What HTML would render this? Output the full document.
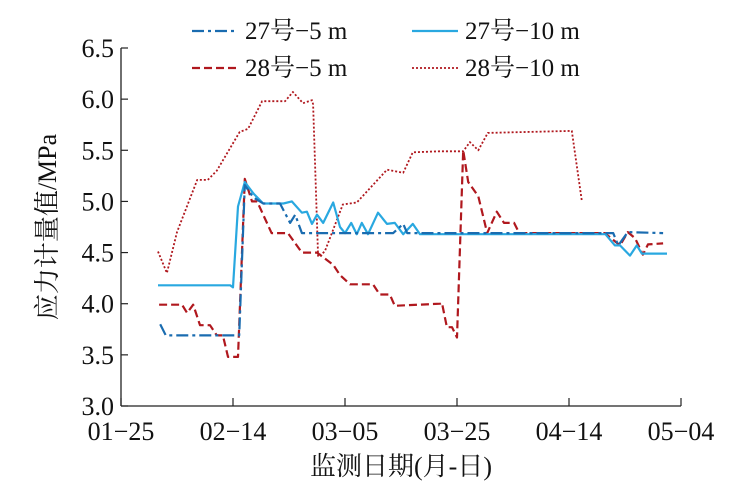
<!DOCTYPE html>
<html><head><meta charset="utf-8"><style>
body{margin:0;background:#fff}
svg text{font-family:"Liberation Serif","Times New Roman","Noto Serif CJK SC",serif;fill:#111}
</style></head><body>
<svg id="chart" width="743" height="497" xmlns="http://www.w3.org/2000/svg">
<g id="axes"></g><g id="series"></g>
<g font-size="25">
<g><line x1="192" y1="31" x2="238" y2="31" stroke="#1a6cb0" stroke-width="2.2" stroke-dasharray="12,4,3,4"/><text x="245" y="39">27号−5 m</text></g>
<g><line x1="412" y1="31" x2="458" y2="31" stroke="#29a8e0" stroke-width="2.2"/><text x="465" y="39">27号−10 m</text></g>
<g><line x1="192" y1="68" x2="238" y2="68" stroke="#b0181e" stroke-width="2.2" stroke-dasharray="8,4"/><text x="245" y="76">28号−5 m</text></g>
<g><line x1="412" y1="68" x2="458" y2="68" stroke="#b0181e" stroke-width="1.8" stroke-dasharray="2,2"/><text x="465" y="76">28号−10 m</text></g>
</g>
</svg>
<script>
const xTickLabels=["01−25","02−14","03−05","03−25","04−14","05−04"];
const yTickLabels=["3.0","3.5","4.0","4.5","5.0","5.5","6.0","6.5"];
const d275=[7.0,8.0,21.1,22.1,23.6,25.4,28.4,30.2,31.1,32.3,48.6,50.4,51.1,87.9,88.8,90.5,96.8];
const v275=[3.80,3.69,3.69,5.16,5.04,4.98,4.98,4.79,4.87,4.69,4.69,4.78,4.69,4.69,4.57,4.70,4.69];
const d2710=[6.6,19.5,20.0,20.9,22.1,23.6,25.4,29.0,30.5,32.3,33.2,34.1,35.0,36.1,37.9,39.1,40.0,41.1,42.1,43.0,44.1,45.9,47.5,48.9,50.4,52.1,53.4,86.5,88.2,89.1,90.9,92.1,93.0,97.5];
const v2710=[4.18,4.18,4.16,4.95,5.19,5.08,4.98,4.98,5.00,4.89,4.90,4.78,4.87,4.79,4.99,4.75,4.69,4.79,4.68,4.79,4.68,4.89,4.78,4.79,4.68,4.78,4.68,4.68,4.57,4.57,4.47,4.57,4.49,4.49];
const d285=[6.8,10.9,11.8,12.9,14.1,15.9,17.1,18.2,19.1,20.9,22.1,23.4,24.3,26.9,29.8,32.3,35.0,37.9,39.1,40.9,45.0,46.2,48.0,48.9,57.0,57.3,58.2,59.1,60.0,61.1,62.0,63.8,65.4,67.1,68.4,70.2,71.1,86.4,89.1,90.5,91.8,93.2,94.1,96.8];
const v285=[3.99,3.99,3.91,3.99,3.79,3.79,3.69,3.69,3.48,3.48,5.22,5.00,5.00,4.69,4.69,4.50,4.50,4.38,4.28,4.19,4.19,4.09,4.09,3.98,4.00,4.01,3.77,3.77,3.67,5.50,5.19,5.05,4.69,4.90,4.79,4.79,4.69,4.69,4.57,4.70,4.64,4.48,4.58,4.59];
const d2810=[6.6,8.2,10.0,13.6,15.5,17.1,21.2,22.7,25.2,29.3,30.7,32.5,34.1,34.3,35.2,36.4,39.6,42.1,47.5,50.4,52.1,56.9,61.1,62.3,63.8,65.5,80.5,82.3];
const v2810=[4.51,4.30,4.70,5.21,5.21,5.30,5.68,5.71,5.98,5.98,6.07,5.96,5.99,5.95,4.46,4.51,4.97,4.99,5.31,5.28,5.48,5.49,5.49,5.58,5.50,5.67,5.69,5.00];
const X0=121,X1=681,Y0=406,Y1=48;
const xs=d=>X0+(X1-X0)*d/100;
const ys=v=>Y0-(Y0-Y1)*(v-3)/3.5;
const NS="http://www.w3.org/2000/svg";
function mk(tag,attrs,parent){const e=document.createElementNS(NS,tag);for(const k in attrs)e.setAttribute(k,attrs[k]);parent.appendChild(e);return e;}
const ax=document.getElementById('axes');
const xa=mk('line',{x1:X0,y1:Y0,x2:X1,y2:Y0,stroke:'#222','stroke-width':1.3},ax);


const ya=mk('line',{x1:X0,y1:Y0,x2:X0,y2:Y1,stroke:'#222','stroke-width':1.3},ax);


xTickLabels.forEach((l,i)=>{const x=xs(i*20);
mk('line',{x1:x,y1:Y0,x2:x,y2:Y0-8,stroke:'#222','stroke-width':1.2},ax);
const t=mk('text',{x:x,y:Y0+34,'text-anchor':'middle','font-size':26},ax);t.textContent=l;

});
yTickLabels.forEach((l,i)=>{const y=ys(3+i*0.5);
mk('line',{x1:X0,y1:y,x2:X0+7,y2:y,stroke:'#222','stroke-width':1.2},ax);
const t=mk('text',{x:114,y:y+9,'text-anchor':'end','font-size':26},ax);t.textContent=l;

});
const xt=mk('text',{x:401,y:475,'text-anchor':'middle','font-size':26},ax);xt.textContent='监测日期(月-日)';


const yt=mk('text',{x:0,y:0,'text-anchor':'middle','font-size':26,transform:'translate(56,227) rotate(-90)'},ax);yt.textContent='应力计量值/MPa';


const sg=document.getElementById('series');
function line(ds,vs,stroke,w,dash,name){const p=mk('polyline',{points:ds.map((d,i)=>xs(d).toFixed(1)+','+ys(vs[i]).toFixed(1)).join(' '),fill:'none',stroke:stroke,'stroke-width':w,'stroke-dasharray':dash,'stroke-linejoin':'round'},sg);

}
line(d2810,v2810,'#b0181e',1.8,'2,2','series-28-10m');
line(d285,v285,'#b0181e',2.2,'8,4','series-28-5m');
line(d2710,v2710,'#29a8e0',2.2,'none','series-27-10m');
line(d275,v275,'#1a6cb0',2.2,'12,4,3,4','series-27-5m');
</script>
</body></html>
